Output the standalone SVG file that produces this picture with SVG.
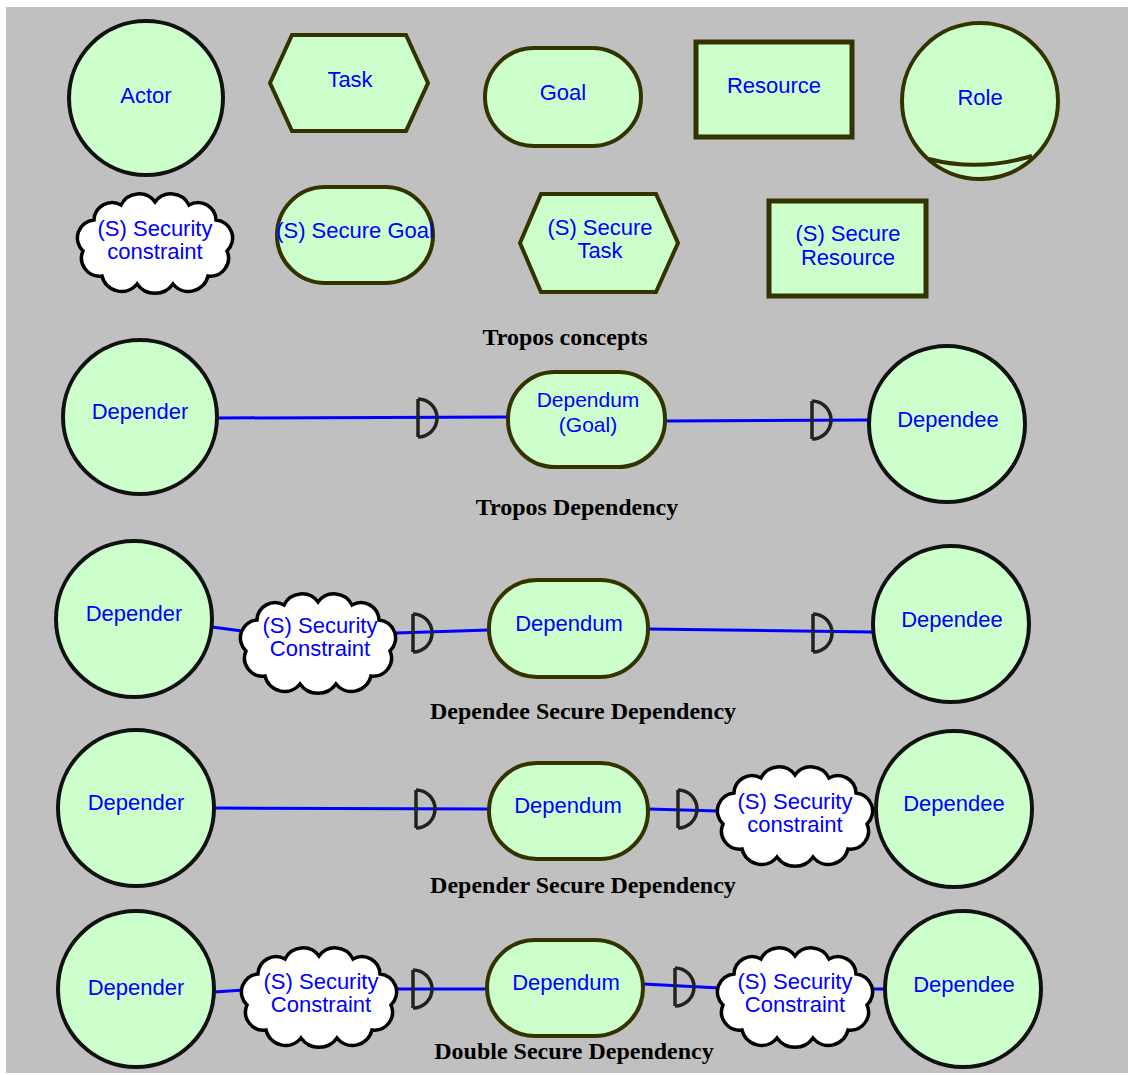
<svg xmlns="http://www.w3.org/2000/svg" xmlns:xlink="http://www.w3.org/1999/xlink" width="1128" height="1075" viewBox="0 0 1128 1075">
<style>
.bg{fill:#c0c0c0}
.actor{fill:#ccffcc;stroke:#111111;stroke-width:4}
.node{fill:#ccffcc;stroke:#333300;stroke-width:4}
.res{fill:#ccffcc;stroke:#333300;stroke-width:5}
.cloud{fill:#ffffff;stroke:#000000;stroke-width:3.5}
.lbl{font-family:"Liberation Sans",Arial,sans-serif;font-size:22px;fill:#0000ff;text-anchor:middle}
.ttl{font-family:"Liberation Serif","Times New Roman",serif;font-size:24px;font-weight:bold;fill:#000000;text-anchor:middle}
.link{fill:none;stroke:#0000ff;stroke-width:3}
.dm{fill:none;stroke:#222222;stroke-width:3.5}
</style>
<defs>
<path id="cloudShape" class="cloud" d="M-72,8 A18,18 0 0 1 -61,-23 A18,18 0 0 1 -34,-38 A20,20 0 0 1 0,-41 A20,20 0 0 1 34,-38 A18,18 0 0 1 61,-23 A18,18 0 0 1 72,8 A18,18 0 0 1 53,33 A20,20 0 0 1 18,41 A22,22 0 0 1 -18,41 A20,20 0 0 1 -53,33 A18,18 0 0 1 -72,8 Z"/>
<path id="dmark" class="dm" d="M0,-19 L0,19 M0,-19 A19,19 0 0 1 0,19"/>
</defs>
<rect class="bg" x="6" y="7" width="1122" height="1066"/>

<!-- Tropos concepts -->
<g id="actor"><circle class="actor" cx="146" cy="98" r="77"/><text class="lbl" x="146" y="103">Actor</text></g>
<g id="task"><polygon class="node" points="270,83 292,35 406,35 428,83 406,131 292,131"/><text class="lbl" x="350" y="87">Task</text></g>
<g id="goal"><rect class="node" x="485" y="48" width="156" height="98" rx="49"/><text class="lbl" x="563" y="100">Goal</text></g>
<g id="resource"><rect class="res" x="696" y="42" width="156" height="95"/><text class="lbl" x="774" y="93">Resource</text></g>
<g id="role"><circle class="actor" cx="980" cy="101" r="78" style="stroke:#333300"/><path class="node" d="M929,159 Q978,172 1032,156" style="fill:none"/><text class="lbl" x="980" y="105">Role</text></g>
<g id="security-constraint"><use xlink:href="#cloudShape" transform="translate(155,243)"/><text class="lbl" x="155" y="236">(S) Security</text><text class="lbl" x="155" y="259">constraint</text></g>
<g id="secure-goal"><rect class="node" x="277" y="187" width="156" height="96" rx="48"/><text class="lbl" x="355" y="238">(S) Secure Goal</text></g>
<g id="secure-task"><polygon class="node" points="520,243 541,194 656,194 678,243 656,292 541,292"/><text class="lbl" x="600" y="235">(S) Secure</text><text class="lbl" x="600" y="258">Task</text></g>
<g id="secure-resource"><rect class="res" x="769" y="201" width="157" height="95"/><text class="lbl" x="848" y="241">(S) Secure</text><text class="lbl" x="848" y="265">Resource</text></g>
<text class="ttl" x="565" y="345">Tropos concepts</text>

<!-- connectors -->
<g id="connectors">
<path class="link" d="M218,418 L508,417"/>
<path class="link" d="M665,421 L869,420"/>
<use xlink:href="#dmark" transform="translate(418,418)"/>
<use xlink:href="#dmark" transform="translate(812,420)"/>

<path class="link" d="M212,627 L242,631"/>
<path class="link" d="M396,633 L489,630"/>
<path class="link" d="M648,629 L873,632"/>
<use xlink:href="#dmark" transform="translate(413,633)"/>
<use xlink:href="#dmark" transform="translate(813,633)"/>

<path class="link" d="M214,808 L489,809"/>
<path class="link" d="M648,809 L718,811"/>
<use xlink:href="#dmark" transform="translate(416,809)"/>
<use xlink:href="#dmark" transform="translate(678,809)"/>

<path class="link" d="M214,992 L244,990"/>
<path class="link" d="M396,989 L487,989"/>
<path class="link" d="M643,984 L720,988"/>
<path class="link" d="M871,989 L886,989"/>
<use xlink:href="#dmark" transform="translate(413,989)"/>
<use xlink:href="#dmark" transform="translate(675,987)"/>
</g>

<!-- Tropos Dependency -->
<g id="dep1-depender"><circle class="actor" cx="140" cy="417" r="77"/><text class="lbl" x="140" y="419">Depender</text></g>
<g id="dep1-dependum"><rect class="node" x="508" y="372" width="157" height="95" rx="47"/><text class="lbl" x="588" y="407" style="font-size:21px">Dependum</text><text class="lbl" x="588" y="432" style="font-size:21px">(Goal)</text></g>
<g id="dep1-dependee"><circle class="actor" cx="947" cy="424" r="78"/><text class="lbl" x="948" y="427">Dependee</text></g>
<text class="ttl" x="577" y="515">Tropos Dependency</text>

<!-- Dependee Secure Dependency -->
<g id="dep2-depender"><circle class="actor" cx="134" cy="619" r="78"/><text class="lbl" x="134" y="621">Depender</text></g>
<g id="dep2-constraint"><use xlink:href="#cloudShape" transform="translate(318,643)"/><text class="lbl" x="320" y="633">(S) Security</text><text class="lbl" x="320" y="656">Constraint</text></g>
<g id="dep2-dependum"><rect class="node" x="489" y="580" width="159" height="97" rx="48"/><text class="lbl" x="569" y="631">Dependum</text></g>
<g id="dep2-dependee"><circle class="actor" cx="951" cy="624" r="78"/><text class="lbl" x="952" y="627">Dependee</text></g>
<text class="ttl" x="583" y="719">Dependee Secure Dependency</text>

<!-- Depender Secure Dependency -->
<g id="dep3-depender"><circle class="actor" cx="136" cy="808" r="78"/><text class="lbl" x="136" y="810">Depender</text></g>
<g id="dep3-dependum"><rect class="node" x="489" y="763" width="159" height="96" rx="48"/><text class="lbl" x="568" y="813">Dependum</text></g>
<g id="dep3-constraint"><use xlink:href="#cloudShape" transform="translate(795,816)"/><text class="lbl" x="795" y="809">(S) Security</text><text class="lbl" x="795" y="832">constraint</text></g>
<g id="dep3-dependee"><circle class="actor" cx="954" cy="809" r="78"/><text class="lbl" x="954" y="811">Dependee</text></g>
<text class="ttl" x="583" y="893">Depender Secure Dependency</text>

<!-- Double Secure Dependency -->
<g id="dep4-depender"><circle class="actor" cx="136" cy="989" r="78"/><text class="lbl" x="136" y="995">Depender</text></g>
<g id="dep4-constraint1"><use xlink:href="#cloudShape" transform="translate(319,997)"/><text class="lbl" x="321" y="989">(S) Security</text><text class="lbl" x="321" y="1012">Constraint</text></g>
<g id="dep4-dependum"><rect class="node" x="487" y="940" width="156" height="96" rx="48"/><text class="lbl" x="566" y="990">Dependum</text></g>
<g id="dep4-constraint2"><use xlink:href="#cloudShape" transform="translate(795,997)"/><text class="lbl" x="795" y="989">(S) Security</text><text class="lbl" x="795" y="1012">Constraint</text></g>
<g id="dep4-dependee"><circle class="actor" cx="963" cy="989" r="78"/><text class="lbl" x="964" y="992">Dependee</text></g>
<text class="ttl" x="574" y="1059">Double Secure Dependency</text>
</svg>
